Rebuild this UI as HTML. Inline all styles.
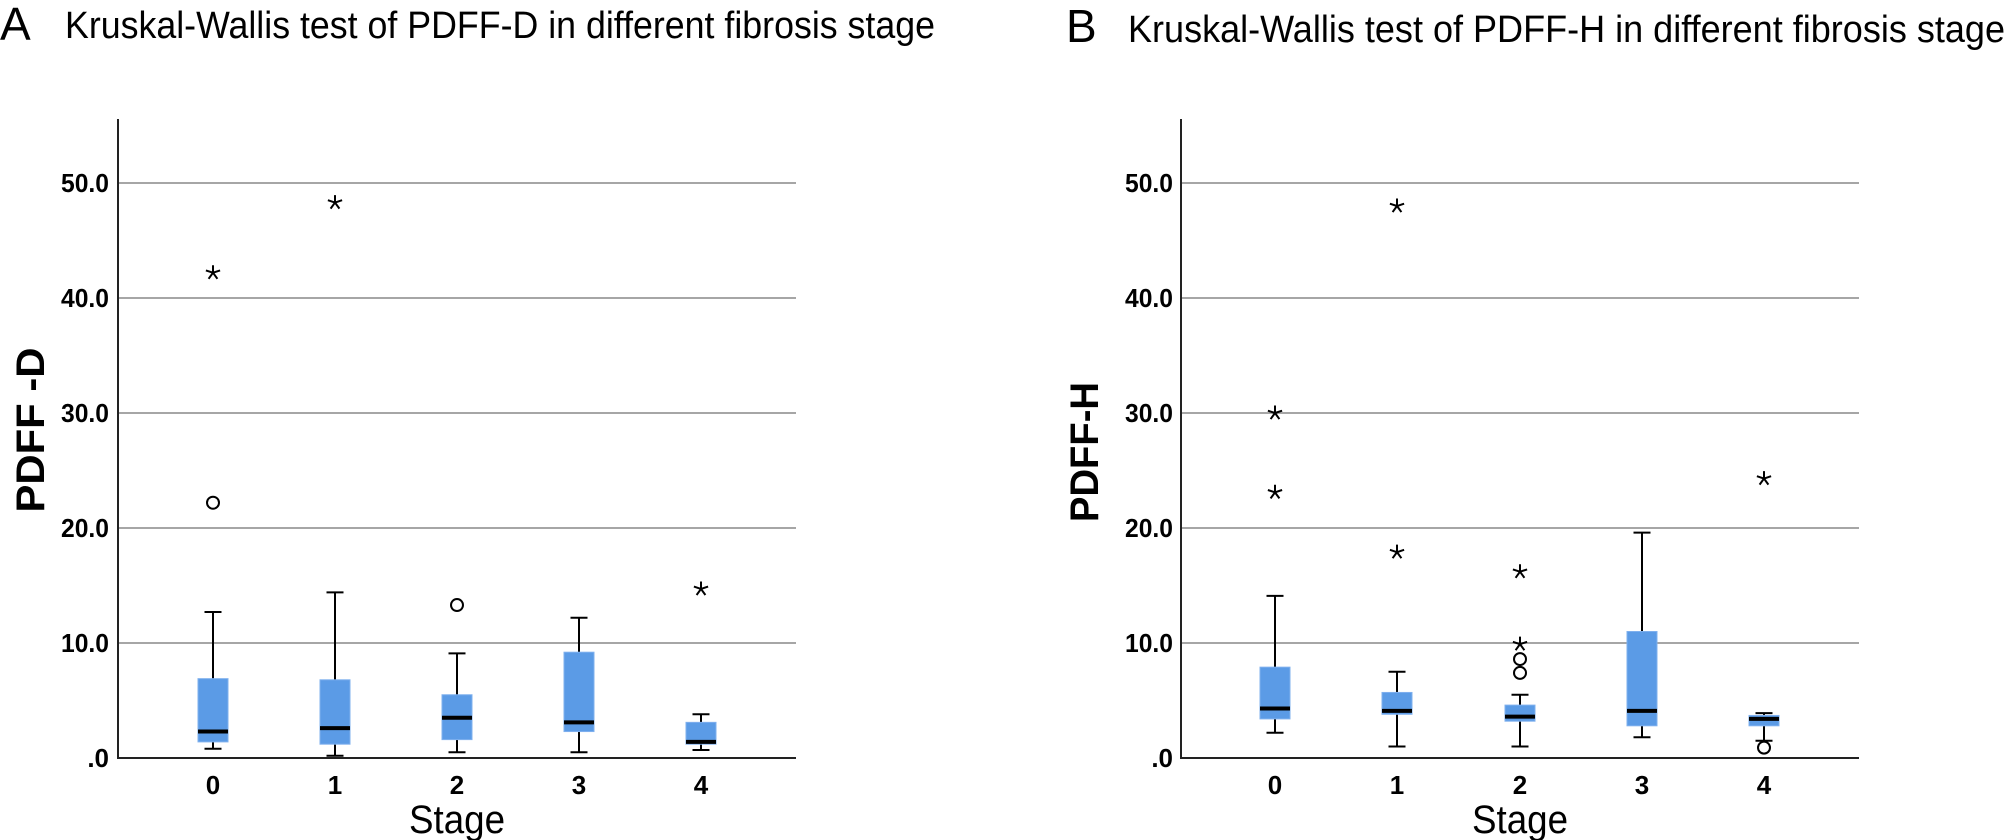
<!DOCTYPE html>
<html><head><meta charset="utf-8"><style>
html,body{margin:0;padding:0;background:#fff;}
svg{display:block;}
text{font-family:"Liberation Sans",sans-serif;fill:#000;}
.t{font-size:38px;}
.L{font-size:46px;}
.tk{font-size:26px;font-weight:bold;}
.yl{font-size:40px;font-weight:bold;}
.xl{font-size:40px;}
</style></head><body>
<svg id="s" width="2007" height="840" xmlns="http://www.w3.org/2000/svg">
<text class="L" x="0" y="40">A</text>
<text class="t" x="65" y="38" textLength="870" lengthAdjust="spacingAndGlyphs">Kruskal-Wallis test of PDFF-D in different fibrosis stage</text>
<text class="L" x="1066" y="42">B</text>
<text class="t" x="1128" y="42" textLength="877" lengthAdjust="spacingAndGlyphs">Kruskal-Wallis test of PDFF-H in different fibrosis stage</text>

<g class="tk" text-anchor="end">
<text x="109" y="192" textLength="48" lengthAdjust="spacingAndGlyphs">50.0</text><text x="109" y="307" textLength="48" lengthAdjust="spacingAndGlyphs">40.0</text><text x="109" y="422" textLength="48" lengthAdjust="spacingAndGlyphs">30.0</text>
<text x="109" y="537" textLength="48" lengthAdjust="spacingAndGlyphs">20.0</text><text x="109" y="652" textLength="48" lengthAdjust="spacingAndGlyphs">10.0</text><text x="109" y="767">.0</text>
<text x="1173" y="192" textLength="48" lengthAdjust="spacingAndGlyphs">50.0</text><text x="1173" y="307" textLength="48" lengthAdjust="spacingAndGlyphs">40.0</text><text x="1173" y="422" textLength="48" lengthAdjust="spacingAndGlyphs">30.0</text>
<text x="1173" y="537" textLength="48" lengthAdjust="spacingAndGlyphs">20.0</text><text x="1173" y="652" textLength="48" lengthAdjust="spacingAndGlyphs">10.0</text><text x="1173" y="767">.0</text>
</g>
<g class="tk" text-anchor="middle">
<text x="213" y="794">0</text><text x="335" y="794">1</text><text x="457" y="794">2</text><text x="579" y="794">3</text><text x="701" y="794">4</text>
<text x="1275" y="794">0</text><text x="1397" y="794">1</text><text x="1520" y="794">2</text><text x="1642" y="794">3</text><text x="1764" y="794">4</text>
</g>
<text class="yl" text-anchor="middle" transform="translate(44,430) rotate(-90)" textLength="165" lengthAdjust="spacingAndGlyphs">PDFF -D</text>
<text class="yl" text-anchor="middle" transform="translate(1098,452) rotate(-90)" textLength="140" lengthAdjust="spacingAndGlyphs">PDFF-H</text>
<text class="xl" text-anchor="middle" x="457" y="833" textLength="96" lengthAdjust="spacingAndGlyphs">Stage</text>
<text class="xl" text-anchor="middle" x="1520" y="833" textLength="96" lengthAdjust="spacingAndGlyphs">Stage</text>
<g id="g"></g>
</svg>
<script>
var Y=function(v){return 758-11.5*v;};
var out='';
function grid(ax,end){
 for(var v=10;v<=50;v+=10){out+='<line x1="'+ax+'" x2="'+end+'" y1="'+Y(v)+'" y2="'+Y(v)+'" stroke="#a6a6a6" stroke-width="2"/>';}
 out+='<line x1="'+ax+'" x2="'+ax+'" y1="119" y2="759" stroke="#222" stroke-width="2"/>';
 out+='<line x1="'+ax+'" x2="'+end+'" y1="758" y2="758" stroke="#222" stroke-width="2"/>';
}
function box(cx,lo,hi,q1,q3,med,circ,stars){
 var l='stroke="#000" stroke-width="2"';
 out+='<line x1="'+cx+'" x2="'+cx+'" y1="'+Y(hi)+'" y2="'+Y(lo)+'" '+l+'/>';
 out+='<line x1="'+(cx-8.5)+'" x2="'+(cx+8.5)+'" y1="'+Y(hi)+'" y2="'+Y(hi)+'" '+l+'/>';
 out+='<line x1="'+(cx-8.5)+'" x2="'+(cx+8.5)+'" y1="'+Y(lo)+'" y2="'+Y(lo)+'" '+l+'/>';
 out+='<rect x="'+(cx-15)+'" y="'+Y(q3)+'" width="30" height="'+(Y(q1)-Y(q3))+'" fill="#5b9be6" stroke="#7fb0ee" stroke-width="1"/>';
 out+='<line x1="'+(cx-15)+'" x2="'+(cx+15)+'" y1="'+Y(med)+'" y2="'+Y(med)+'" stroke="#000" stroke-width="4"/>';
 circ.forEach(function(v){out+='<circle cx="'+cx+'" cy="'+Y(v)+'" r="6" fill="none" '+l+'/>';});
 stars.forEach(function(v){var y=Y(v),d='';for(var k=0;k<5;k++){var a=-Math.PI/2+k*2*Math.PI/5;d+='M'+cx+' '+y+'L'+(cx+7.5*Math.cos(a)).toFixed(1)+' '+(y+7.5*Math.sin(a)).toFixed(1);}
  out+='<path d="'+d+'" stroke="#000" stroke-width="2" fill="none"/>';});
}
grid(118,796);grid(1181,1859);
box(213,.8,12.7,1.4,6.9,2.3,[22.2],[42.2]);
box(335,.2,14.4,1.2,6.8,2.6,[],[48.3]);
box(457,.5,9.1,1.6,5.5,3.5,[13.3],[]);
box(579,.5,12.2,2.3,9.2,3.1,[],[]);
box(701,.7,3.8,1.2,3.1,1.4,[],[14.7]);
box(1275,2.2,14.1,3.4,7.9,4.3,[],[30,23.1]);
box(1397,1.0,7.5,3.8,5.7,4.1,[],[17.9,48]);
box(1520,1.0,5.5,3.2,4.6,3.6,[7.4,8.6],[9.9,16.2]);
box(1642,1.8,19.6,2.8,11.0,4.1,[],[]);
box(1764,1.5,3.9,2.8,3.7,3.4,[0.9],[24.3]);
document.getElementById('g').innerHTML=out;
</script>
</body></html>
